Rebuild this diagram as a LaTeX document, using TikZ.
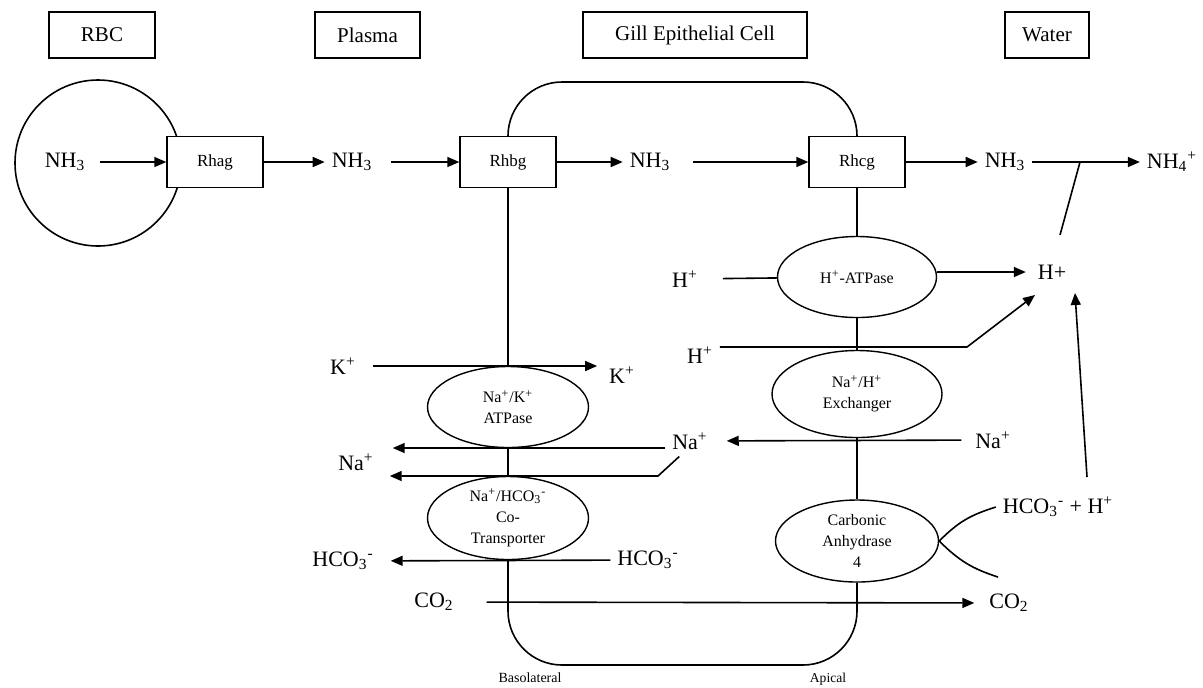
\documentclass[tikz,border=0pt]{standalone}
\usepackage{fontspec}
\setmainfont{Liberation Serif}
\usetikzlibrary{arrows.meta,shapes.geometric}
\tikzset{headbox/.style={draw, line width=0.7pt, minimum width=53pt, minimum height=23pt, font=\fontsize{10.5}{12}\selectfont},
	chanbox/.style={draw, line width=0.7pt, fill=white, minimum width=48pt, minimum height=25.5pt, font=\fontsize{8.5}{10}\selectfont},
	pump/.style={draw, ellipse, line width=0.7pt, inner sep=0pt, minimum width=80.5pt, minimum height=40.5pt, align=center, font=\fontsize{8}{10.5}\selectfont},
	ion/.style={font=\fontsize{11}{13}\selectfont},
	side/.style={font=\fontsize{7}{8}\selectfont},
	flow/.style={line width=0.8pt, -{Triangle[length=6pt,width=5pt]}},
	link/.style={line width=0.8pt}
}

\begin{document}
\begin{tikzpicture}[x=0.5pt, y=-0.5pt]
				\useasboundingbox (0,0) rectangle (1203,687);
				% headings
				\node[headbox] (rbc) at (102,35) {RBC};
				\node[headbox, minimum width=52.5pt] (plasma) at (367.5,35) {Plasma};
				\node[headbox, minimum width=112pt] (gill) at (695,35) {Gill Epithelial Cell};
				\node[headbox, minimum width=42pt] (water) at (1047,35) {Water};
				
				% red blood cell and Rh channels
				\node[draw, circle, link, minimum size=83pt] (cell) at (98,163) {};
				\node[ion] (nhrbc) at (65,162) {NH\textsubscript{3}};
				\node[chanbox] (rhag) at (215,162) {Rhag};
				\node[chanbox] (rhbg) at (508,162) {Rhbg};
				\node[chanbox] (rhcg) at (857,162) {Rhcg};
				\node[ion] (nhpl) at (352,162) {NH\textsubscript{3}};
				\node[ion] (nhcl) at (650,162) {NH\textsubscript{3}};
				\node[ion] (nhwt) at (1005,162) {NH\textsubscript{3}};
				\node[ion] (nh4) at (1172,162) {NH\textsubscript{4}\textsuperscript{+}};
				
				% transporters in the membranes
				\node[pump] (nak) at (508,407) {Na\textsuperscript{+}/K\textsuperscript{+}\\ATPase};
				\node[pump, minimum height=41.5pt] (cotr) at (508,518) {Na\textsuperscript{+}/HCO\textsubscript{3}\textsuperscript{-}\\Co-\\Transporter};
				\node[pump, minimum width=79.5pt] (hatp) at (857,277) {H\textsuperscript{+}-ATPase};
				\node[pump, minimum width=85pt, minimum height=43.5pt] (nhe) at (857,394) {Na\textsuperscript{+}/H\textsuperscript{+}\\Exchanger};
				\node[pump, minimum width=81.5pt, minimum height=41pt] (ca) at (857,541) {Carbonic\\Anhydrase\\4};
				
				% ions
				\node[ion] (kin) at (343,366) {K\textsuperscript{+}};
				\node[ion] (kout) at (622,375) {K\textsuperscript{+}};
				\node[ion] (naout) at (356,462) {Na\textsuperscript{+}};
				\node[ion] (nacl) at (690,441) {Na\textsuperscript{+}};
				\node[ion] (nawt) at (993,440) {Na\textsuperscript{+}};
				\node[ion] (hcoout) at (343,561) {HCO\textsubscript{3}\textsuperscript{-}};
				\node[ion] (hcocl) at (648,560) {HCO\textsubscript{3}\textsuperscript{-}};
				\node[ion] (co2bl) at (434,602) {CO\textsubscript{2}};
				\node[ion] (co2wt) at (1009,603) {CO\textsubscript{2}};
				\node[ion] (hcoh) at (1058,507) {HCO\textsubscript{3}\textsuperscript{-} + H\textsuperscript{+}};
				\node[ion] (hone) at (685,279) {H\textsuperscript{+}};
				\node[ion] (htwo) at (700,355) {H\textsuperscript{+}};
				\node[ion] (hwt) at (1052,272) {H+};
				\node[side] (baso) at (530,678) {Basolateral};
				\node[side, font=\fontsize{6.8}{8}\selectfont] (apic) at (828,679) {Apical};
				
				\coordinate (nabend) at (658,476);
				\coordinate (hbend) at (967,347);
				\coordinate (hend) at (1035,295);
				\coordinate (hstart) at (1087,477);
				\coordinate (htop) at (1075,293);
				\coordinate (nhjoin) at (1080,162);
				\coordinate (hjoin) at (1060,235);
				\coordinate (caend) at (998,577);
				
				% cell outline
				\draw[link, rounded corners=27pt] (rhbg.north) -- (508,82) -- (857,82) -- (rhcg.north);
				\draw[link, rounded corners=27pt] (cotr.south) -- (508,665) -- (857,665) -- (ca.south);
				\draw[link] (rhbg) -- (nak);
				\draw[link] (nak) -- (cotr);
				\draw[link] (rhcg) -- (hatp);
				\draw[link] (hatp) -- (nhe);
				\draw[link] (nhe) -- (ca);
				
				% draw arrows
				\draw[flow, shorten <=4pt] (nhrbc) -- (rhag);
				\draw[flow] (rhag) -- (nhpl);
				\draw[flow, shorten <=6pt] (nhpl) -- (rhbg);
				\draw[flow] (rhbg) -- (nhcl);
				\draw[flow, shorten <=8pt] (nhcl) -- (rhcg);
				\draw[flow] (rhcg) -- (nhwt);
				\draw[flow] (nhwt) -- (nh4);
				\draw[link] (nhjoin) -- (hjoin);
				\draw[flow, shorten <=5pt, shorten >=2.5pt] (kin.east) -- (kin.east -| kout.west);
				\draw[flow, shorten >=6pt] ([yshift=-3.5pt]nacl.west) -- ([yshift=-3.5pt]nacl.west -| naout.east);
				\draw[flow, shorten >=4.5pt] ([xshift=7pt]nacl.south west) -- (nabend) -- (nabend -| naout.east);
				\draw[flow, shorten <=3.5pt, shorten >=6pt] (nawt) -- (nacl);
				\draw[flow, shorten >=5pt] (hcocl) -- (hcoout);
				\draw[flow, shorten <=13pt, shorten >=4pt] (co2bl) -- (co2wt);
				\draw[link, shorten <=9pt] (hone) -- (hatp);
				\draw[flow, shorten >=2.5pt] (hwt.west -| hatp.east) -- (hwt.west);
				\draw[flow] ([yshift=4pt]htwo.east) -- (hbend) -- (hend);
				\draw[flow] (hstart) -- (htop);
				\draw[link] (ca.east) .. controls +(20,-20) and +(-25,8) .. (hcoh.west);
				\draw[link] (ca.east) .. controls +(20,20) and +(-25,-8) .. (caend);
			\end{tikzpicture}
\end{document}
